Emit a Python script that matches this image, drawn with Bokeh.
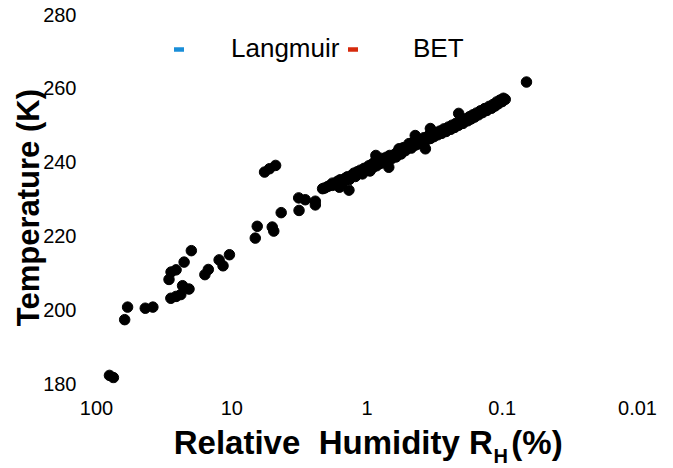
import math
from bokeh.plotting import figure
from bokeh.layouts import column
from bokeh.models import Range1d, FixedTicker, Legend, LegendItem, ColumnDataSource
from bokeh.core.properties import value
from bokeh.embed import file_html
from bokeh.resources import INLINE

# ---------------- data ----------------
# scattered low-temperature / high-humidity points
rh_scatter = [80.2, 75.0, 61.9, 58.9, 43.6, 38.3, 29.1, 28.2, 28.1, 25.8, 25.8, 23.8,
              23.1, 22.5, 20.7, 19.9, 15.8, 14.9, 12.4, 11.6, 10.4, 6.70, 6.48, 5.02,
              4.89, 4.31, 3.18, 3.20, 2.86, 2.41, 2.41, 2.13, 1.80,
              5.72, 5.26, 4.74, 0.0662]
t_scatter = [182.2, 181.6, 197.3, 200.7, 200.4, 200.7, 208.2, 203.1, 210.2, 203.6, 210.8, 204.1,
             206.5, 212.9, 205.6, 216.0, 209.5, 210.9, 213.5, 211.9, 214.9, 219.4, 222.6, 222.4,
             221.3, 226.3, 226.9, 230.3, 229.8, 229.4, 228.4, 232.8, 233.7,
             237.3, 238.2, 239.1, 261.7]

# dense main band
rh_band = [2.05, 1.95, 1.85, 1.80, 1.70, 1.65, 1.58, 1.50, 1.45, 1.40, 1.35, 1.30, 1.25, 1.22,
           1.18, 1.12, 1.08, 1.05, 1.00, 0.97, 0.95, 0.92, 0.90, 0.87, 0.85, 0.82, 0.80, 0.78,
           0.75, 0.72, 0.70, 0.68, 0.66, 0.63, 0.61, 0.60, 0.58, 0.56, 0.54, 0.52, 0.50, 0.49,
           0.47, 0.46, 0.44, 0.43, 0.42, 0.40, 0.39, 0.38, 0.36, 0.35, 0.34, 0.33, 0.32, 0.31,
           0.30, 0.29, 0.28, 0.27, 0.26, 0.25, 0.24, 0.235, 0.225, 0.22, 0.21, 0.20, 0.195, 0.19,
           0.18, 0.175, 0.17, 0.165, 0.16, 0.155, 0.15, 0.145, 0.14, 0.135, 0.13, 0.125, 0.12,
           0.117, 0.113, 0.11, 0.107, 0.104, 0.10, 0.098, 0.095,
           1.36, 0.69, 0.37, 1.60, 0.86, 0.44, 0.34, 0.21]
t_band = [233.0, 233.4, 233.8, 234.3, 234.0, 234.8, 235.2, 234.6, 235.6, 236.0, 235.3, 236.4, 237.0, 236.1,
          237.4, 237.8, 236.8, 238.3, 238.0, 239.0, 237.6, 239.4, 238.6, 240.2, 239.0, 240.6, 239.6, 241.0,
          240.2, 241.3, 240.6, 241.8, 240.9, 242.0, 241.4, 242.6, 243.6, 242.2, 243.9, 243.1, 244.2, 245.0,
          243.8, 245.3, 244.6, 245.8, 244.9, 246.0, 245.4, 246.6, 246.1, 247.2, 246.4, 247.7, 246.9, 248.0,
          247.4, 248.4, 247.8, 249.0, 248.3, 249.5, 248.9, 250.0, 249.4, 250.5, 250.0, 251.1, 250.5, 251.7,
          251.2, 252.3, 251.7, 252.8, 252.2, 253.3, 252.8, 253.9, 253.4, 254.5, 254.0, 255.1, 254.6,
          255.6, 255.2, 256.3, 255.8, 256.8, 256.4, 257.3, 257.0,
          232.4, 238.6, 243.6, 233.2, 241.8, 247.2, 249.1, 253.2]

x_ticks = [100, 10, 1, 0.1, 0.01]
x_tick_labels = ["100", "10", "1", "0.1", "0.01"]
y_ticks = [180, 200, 220, 240, 260, 280]
series_names = ["Langmuir", "BET"]
series_colors = ["#1a8ed8", "#d62a0c"]
x_title_parts = ["Relative\u00a0 Humidity R", "H", "(%)"]
y_title = "Temperature (K)"

FONT = "Liberation Sans"
NAN = float("nan")

# ---------------- main plot ----------------
p = figure(width=673, height=423, x_axis_type="log",
           x_range=Range1d(100, 0.01), y_range=Range1d(180, 280),
           output_backend="svg", toolbar_location=None,
           min_border_left=96, min_border_right=36, min_border_top=14, min_border_bottom=40)
p.title.visible = False
p.xgrid.visible = False
p.ygrid.visible = False
p.outline_line_color = None

for ax in (p.xaxis[0], p.yaxis[0]):
    ax.axis_line_color = None
    ax.major_tick_line_color = None
    ax.minor_tick_line_color = None
    ax.major_tick_out = 0
    ax.major_tick_in = 0
    ax.minor_tick_out = 0
    ax.minor_tick_in = 0
    ax.major_label_text_font = FONT
    ax.major_label_text_font_size = "20px"
    ax.major_label_text_color = "black"

p.xaxis.ticker = FixedTicker(ticks=x_ticks, minor_ticks=[])
p.xaxis.major_label_overrides = {t: s for t, s in zip(x_ticks, x_tick_labels)}
p.xaxis.major_label_standoff = 17
p.yaxis.ticker = FixedTicker(ticks=y_ticks, minor_ticks=[])
p.yaxis.major_label_standoff = 20
p.yaxis.axis_label = y_title + "\u00a0\u00a0"
p.yaxis.axis_label_text_font = FONT
p.yaxis.axis_label_text_font_size = "31px"
p.yaxis.axis_label_text_font_style = "bold"
p.yaxis.axis_label_text_color = "black"
p.yaxis.axis_label_standoff = -6

src = ColumnDataSource(dict(x=rh_scatter + rh_band, y=t_scatter + t_band))
p.scatter("x", "y", source=src, size=10.5, fill_color="black", line_color="black")

# legend (two single-item legends)
r1 = p.line(x=[NAN], y=[NAN], line_color=series_colors[0], line_width=4.5, line_cap="round")
r2 = p.line(x=[NAN], y=[NAN], line_color=series_colors[1], line_width=4.5, line_cap="round")
for r, name, loc, so in ((r1, series_names[0], (78, 319), 47), (r2, series_names[1], (252, 319), 55)):
    leg = Legend(items=[LegendItem(label=name, renderers=[r])], location=loc,
                 orientation="horizontal", glyph_width=10, glyph_height=20,
                 label_standoff=so, padding=0, margin=0, spacing=0,
                 border_line_color=None, background_fill_alpha=0,
                 label_text_font=FONT, label_text_font_size="26px", label_text_color="black")
    p.add_layout(leg)

# ---------------- x-axis title strip (with subscript) ----------------
t = figure(width=673, height=45, x_range=Range1d(0, 673), y_range=Range1d(468, 423),
           output_backend="svg", toolbar_location=None,
           min_border_left=0, min_border_right=0, min_border_top=0, min_border_bottom=0)
t.title.visible = False
t.axis.visible = False
t.xgrid.visible = False
t.ygrid.visible = False
t.outline_line_color = None

t.text(x=[493], y=[442], text=[x_title_parts[0]], text_align="right", text_baseline="alphabetic",
       text_font=value(FONT), text_font_size="33px", text_font_style="bold", text_color="black")
t.text(x=[494], y=[455], text=[x_title_parts[1]], text_align="left", text_baseline="alphabetic",
       text_font=value(FONT), text_font_size="20px", text_font_style="bold", text_color="black")
t.text(x=[516], y=[442], text=[x_title_parts[2]], text_align="left", text_baseline="alphabetic",
       text_font=value(FONT), text_font_size="33px", text_font_style="bold", text_color="black")

layout = column(p, t, spacing=0)
open("out.html", "w").write(file_html(layout, INLINE))
